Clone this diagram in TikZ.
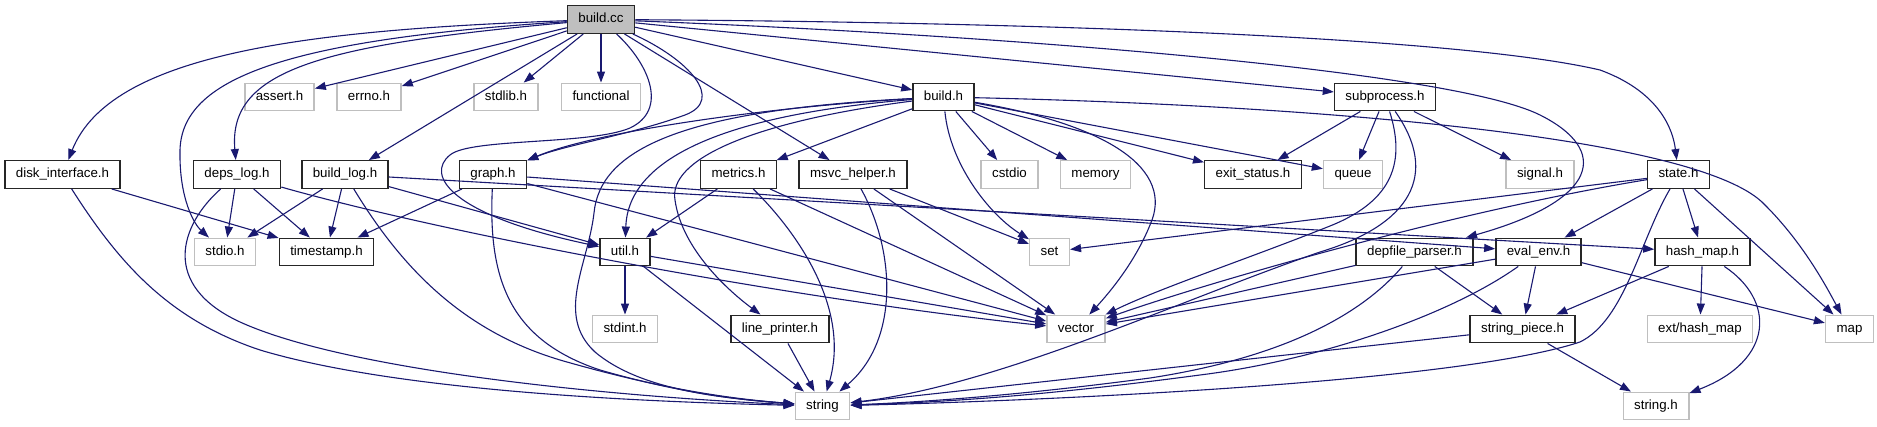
\documentclass[tikz,border=0pt]{standalone}
\usepackage{fontspec}
\setmainfont{Liberation Sans}
\usetikzlibrary{arrows.meta}
\definecolor{edgeblue}{HTML}{191970}
\definecolor{sysgray}{HTML}{BFBFBF}
\definecolor{srcfill}{HTML}{BFBFBF}

\begin{document}
\begin{tikzpicture}[
      x=1pt, y=-1pt,
      file/.style={draw=black!85, fill=white, line width=1.4pt, rectangle, minimum height=27.5pt, inner xsep=11pt, inner ysep=0pt, text height=9.6pt, text depth=2.8pt, font=\fontsize{13.3}{15}\selectfont},
      sys/.style={file, draw=sysgray},
      src/.style={file, fill=srcfill},
      incl/.style={-{Triangle[length=11pt, width=8pt]}, line width=1.1pt, color=edgeblue},
  ]
    \useasboundingbox (0,0) rectangle (1877,427);

    \node[src] (buildcc) at (601,19.5) {build.cc};

    \node[sys]  (assert)     at (279.5,97) {assert.h};
    \node[sys]  (errno)      at (369,97)   {errno.h};
    \node[sys]  (stdlib)     at (506,97)   {stdlib.h};
    \node[sys]  (functional) at (601,97)   {functional};
    \node[file] (buildh)     at (943.5,97) {build.h};
    \node[file] (subprocess) at (1385,97)  {subprocess.h};

    \node[file] (diskinterface) at (62.5,174.5)   {disk\_interface.h};
    \node[file] (depslog)       at (237,174.5)    {deps\_log.h};
    \node[file] (buildlog)      at (345,174.5)    {build\_log.h};
    \node[file] (graph)         at (493,174.5)    {graph.h};
    \node[file] (metrics)       at (738.5,174.5)  {metrics.h};
    \node[file] (msvchelper)    at (853,174.5)    {msvc\_helper.h};
    \node[sys]  (cstdio)        at (1009.5,174.5) {cstdio};
    \node[sys]  (memory)        at (1095.5,174.5) {memory};
    \node[file] (exitstatus)    at (1253,174.5)   {exit\_status.h};
    \node[sys]  (queue)         at (1353,174.5)   {queue};
    \node[sys]  (signal)        at (1540,174.5)   {signal.h};
    \node[file] (state)         at (1678.5,174.5) {state.h};

    \node[sys]  (stdio)         at (225,252)    {stdio.h};
    \node[file] (timestamp)     at (326.5,252)  {timestamp.h};
    \node[file] (util)          at (625,252)    {util.h};
    \node[sys]  (set)           at (1049.5,252) {set};
    \node[file] (depfileparser) at (1414.5,252) {depfile\_parser.h};
    \node[file] (evalenv)       at (1538.5,252) {eval\_env.h};
    \node[file] (hashmap)       at (1702.5,252) {hash\_map.h};

    \node[sys]  (stdint)      at (625,329)    {stdint.h};
    \node[file] (lineprinter) at (780,329)    {line\_printer.h};
    \node[sys]  (vector)      at (1076,329)   {vector};
    \node[file] (stringpiece) at (1522.5,329) {string\_piece.h};
    \node[sys]  (exthashmap)  at (1700,329)   {ext/hash\_map};
    \node[sys]  (map)         at (1849.5,329) {map};

    \node[sys] (string)  at (822.5,406) {string};
    \node[sys] (stringh) at (1656,406)  {string.h};

    \draw[incl] (buildcc) .. controls (300,30) and (110,55) .. (diskinterface);
    \draw[incl] (buildcc) .. controls (280,40) and (182,80) .. (180,150) .. controls (179,200) and (195,225) .. (stdio);
    \draw[incl] (buildcc) .. controls (320,45) and (228,70) .. (depslog);
    \draw[incl] (buildcc) -- (assert);
    \draw[incl] (buildcc) -- (errno);
    \draw[incl] (buildcc) -- (stdlib);
    \draw[incl] (buildcc) -- (functional);
    \draw[incl] (buildcc) -- (buildlog);
    \draw[incl] (buildcc) .. controls (650,65) and (668,110) .. (630,128) .. controls (590,145) and (470,138) .. (450,155) .. controls (425,175) and (450,215) .. (util);
    \draw[incl] (buildcc) .. controls (690,60) and (725,100) .. (685,115) .. controls (630,135) and (565,145) .. (graph);
    \draw[incl] (buildcc) -- (buildh);
    \draw[incl] (buildcc) -- (msvchelper);
    \draw[incl] (buildcc) -- (subprocess);
    \draw[incl] (buildcc) .. controls (1000,35) and (1450,70) .. (1540,115) .. controls (1610,150) and (1600,200) .. (depfileparser);
    \draw[incl] (buildcc) .. controls (1000,22) and (1450,35) .. (1600,70) .. controls (1660,92) and (1673,130) .. (state);

    \draw[incl] (buildh) .. controls (780,106) and (600,130) .. (graph);
    \draw[incl] (buildh) .. controls (720,115) and (628,160) .. (util);
    \draw[incl] (buildh) .. controls (680,110) and (600,150) .. (594,213) .. controls (588,265) and (555,315) .. (595,352) .. controls (640,390) and (720,398) .. (string);
    \draw[incl] (buildh) .. controls (750,122) and (668,160) .. (675,200) .. controls (682,250) and (730,292) .. (lineprinter);
    \draw[incl] (buildh) -- (metrics);
    \draw[incl] (buildh) -- (cstdio);
    \draw[incl] (buildh) -- (memory);
    \draw[incl] (buildh) -- (exitstatus);
    \draw[incl] (buildh) -- (queue);
    \draw[incl] (buildh) .. controls (950,165) and (990,215) .. (set);
    \draw[incl] (buildh) .. controls (1110,125) and (1175,170) .. (1150,225) .. controls (1135,262) and (1110,292) .. (vector);
    \draw[incl] (buildh) .. controls (1300,105) and (1700,135) .. (1765,205) .. controls (1805,245) and (1828,290) .. (map);

    \draw[incl] (subprocess) -- (exitstatus);
    \draw[incl] (subprocess) -- (queue);
    \draw[incl] (subprocess) -- (signal);
    \draw[incl] (subprocess) .. controls (1405,160) and (1395,200) .. (1330,226) .. controls (1250,258) and (1160,288) .. (vector);
    \draw[incl] (subprocess) .. controls (1440,175) and (1410,225) .. (1320,252) .. controls (1180,300) and (1000,385) .. (string);

    \draw[incl] (state) -- (set);
    \draw[incl] (state) .. controls (1450,212) and (1200,285) .. (vector);
    \draw[incl] (state) .. controls (1640,240) and (1625,320) .. (1580,342) .. controls (1450,385) and (1000,402) .. (string);
    \draw[incl] (state) -- (evalenv);
    \draw[incl] (state) -- (hashmap);
    \draw[incl] (state) -- (map);

    \draw[incl] (graph) -- (timestamp);
    \draw[incl] (graph) .. controls (488,280) and (510,340) .. (600,370) .. controls (680,393) and (740,400) .. (string);
    \draw[incl] (graph) -- (vector);
    \draw[incl] (graph) -- (evalenv);

    \draw[incl] (util) -- (stdint);
    \draw[incl] (util) -- (string);
    \draw[incl] (util) -- (vector);

    \draw[incl] (metrics) -- (util);
    \draw[incl] (metrics) .. controls (800,235) and (850,310) .. (string);
    \draw[incl] (metrics) -- (vector);

    \draw[incl] (msvchelper) .. controls (895,250) and (900,340) .. (string);
    \draw[incl] (msvchelper) -- (set);
    \draw[incl] (msvchelper) -- (vector);

    \draw[incl] (lineprinter) -- (string);

    \draw[incl] (depslog) -- (stdio);
    \draw[incl] (depslog) -- (timestamp);
    \draw[incl] (depslog) .. controls (180,225) and (160,285) .. (240,322) .. controls (350,372) and (620,397) .. (string);
    \draw[incl] (depslog) .. controls (450,235) and (800,300) .. (vector);

    \draw[incl] (buildlog) -- (stdio);
    \draw[incl] (buildlog) -- (timestamp);
    \draw[incl] (buildlog) -- (util);
    \draw[incl] (buildlog) -- (hashmap);
    \draw[incl] (buildlog) .. controls (400,265) and (460,330) .. (560,360) .. controls (650,386) and (720,398) .. (string);

    \draw[incl] (diskinterface) -- (timestamp);
    \draw[incl] (diskinterface) .. controls (120,265) and (170,320) .. (260,350) .. controls (400,392) and (650,402) .. (string);

    \draw[incl] (depfileparser) -- (vector);
    \draw[incl] (depfileparser) .. controls (1370,305) and (1300,355) .. (1150,378) .. controls (1000,398) and (900,403) .. (string);
    \draw[incl] (depfileparser) -- (stringpiece);

    \draw[incl] (evalenv) -- (vector);
    \draw[incl] (evalenv) .. controls (1450,315) and (1320,360) .. (1200,375) .. controls (1050,395) and (950,402) .. (string);
    \draw[incl] (evalenv) -- (stringpiece);
    \draw[incl] (evalenv) -- (map);

    \draw[incl] (hashmap) -- (stringpiece);
    \draw[incl] (hashmap) -- (exthashmap);
    \draw[incl] (hashmap) .. controls (1775,300) and (1775,360) .. (stringh);

    \draw[incl] (stringpiece) -- (string);
    \draw[incl] (stringpiece) -- (stringh);
  \end{tikzpicture}
\end{document}
